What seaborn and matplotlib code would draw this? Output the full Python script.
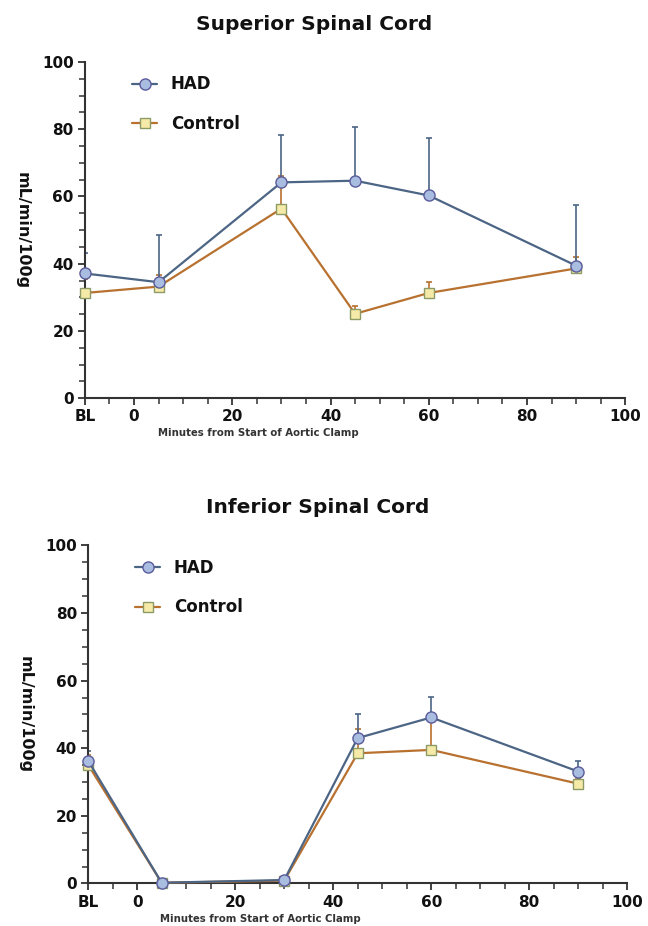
import numpy as np
import pandas as pd
import matplotlib
matplotlib.use("Agg")
import matplotlib.pyplot as plt
import seaborn as sns
from matplotlib.lines import Line2D
from matplotlib.ticker import MultipleLocator

# ---- data ----
minutes = [-10, 5, 30, 45, 60, 90]          # -10 is the baseline "BL" position
x_tick_vals = [-10, 0, 20, 40, 60, 80, 100]
x_tick_labels = ["BL", "0", "20", "40", "60", "80", "100"]

sup_had = [37.1, 34.5, 64.2, 64.7, 60.3, 39.4]
sup_had_err = [6.2, 14.0, 14.1, 16.1, 17.0, 18.0]
sup_ctrl = [31.3, 33.2, 56.4, 25.1, 31.3, 38.6]
sup_ctrl_err = [4.2, 3.4, 9.8, 2.3, 3.2, 3.3]

inf_had = [36.3, 0.2, 1.0, 43.0, 49.1, 33.1]
inf_had_err = [2.8, 0.0, 0.0, 7.1, 6.1, 3.0]
inf_ctrl = [35.1, 0.2, 0.8, 38.5, 39.5, 29.5]
inf_ctrl_err = [3.0, 0.0, 0.0, 7.2, 9.0, 1.5]

titles = ["Superior Spinal Cord", "Inferior Spinal Cord"]
series_names = ["HAD", "Control"]
y_label = "mL/min/100g"
x_label = "Minutes from Start of Aortic Clamp"

# ---- style ----
sns.set_theme(style="white")
plt.rcParams["font.family"] = ["DejaVu Sans"]

had_line = "#4c6585"
had_face = "#a9bde0"
had_edge = "#5b5b9c"
ctrl_line = "#b8712f"
ctrl_face = "#f6eaa8"
ctrl_edge = "#8c9a66"
axis_col = "#333333"

fig = plt.figure(figsize=(6.48, 9.26), dpi=100)
ax_top = fig.add_axes([0.131, 0.570, 0.834, 0.363])
ax_bot = fig.add_axes([0.136, 0.046, 0.832, 0.365])

panels = [
    (ax_top, sup_had, sup_had_err, sup_ctrl, sup_ctrl_err, titles[0]),
    (ax_bot, inf_had, inf_had_err, inf_ctrl, inf_ctrl_err, titles[1]),
]

for ax, had, had_err, ctrl, ctrl_err, title in panels:
    df = pd.DataFrame({
        "minutes": minutes * 2,
        "flow": had + ctrl,
        "group": [series_names[0]] * len(minutes) + [series_names[1]] * len(minutes),
    })
    # upward-only error bars
    ax.errorbar(minutes, ctrl, yerr=[np.zeros(len(ctrl)), ctrl_err], fmt="none",
                ecolor=ctrl_line, elinewidth=1.2, capsize=2.5, capthick=1.2, zorder=2)
    ax.errorbar(minutes, had, yerr=[np.zeros(len(had)), had_err], fmt="none",
                ecolor=had_line, elinewidth=1.2, capsize=2.5, capthick=1.2, zorder=2)

    sns.lineplot(data=df[df.group == "Control"], x="minutes", y="flow", ax=ax,
                 color=ctrl_line, linewidth=1.6, marker="s", markersize=7,
                 markerfacecolor=ctrl_face, markeredgecolor=ctrl_edge,
                 markeredgewidth=1.0, legend=False, zorder=3, clip_on=False)
    sns.lineplot(data=df[df.group == "HAD"], x="minutes", y="flow", ax=ax,
                 color=had_line, linewidth=1.6, marker="o", markersize=8,
                 markerfacecolor=had_face, markeredgecolor=had_edge,
                 markeredgewidth=1.0, legend=False, zorder=4, clip_on=False)
    ax.set_xlim(-10, 100)
    ax.set_ylim(0, 100)
    ax.set_xticks(x_tick_vals)
    ax.set_xticklabels(x_tick_labels)
    ax.xaxis.set_minor_locator(MultipleLocator(5))
    ax.set_yticks([0, 20, 40, 60, 80, 100])
    ax.yaxis.set_minor_locator(MultipleLocator(5))
    for lab in ax.get_xticklabels() + ax.get_yticklabels():
        lab.set_fontweight("bold")
        lab.set_fontsize(11)
        lab.set_color("#111111")
    ax.tick_params(axis="both", which="major", direction="out", length=5, width=1.3,
                   color=axis_col, pad=3, bottom=True, left=True)
    ax.tick_params(axis="both", which="minor", direction="out", length=4, width=1.1,
                   color=axis_col, bottom=True, left=True)
    for s in ["top", "right"]:
        ax.spines[s].set_visible(False)
    for s in ["left", "bottom"]:
        ax.spines[s].set_color(axis_col)
        ax.spines[s].set_linewidth(1.5)
    ax.set_xlabel("")
    ax.set_ylabel(y_label, fontsize=11.5, fontweight="bold", labelpad=20,
                  rotation=-90, color="#111111")
    ax.text(0.32, -0.105, x_label, transform=ax.transAxes, ha="center", va="center",
            fontsize=7.3, fontweight="bold", color="#333333")
    ax.set_title(title, fontsize=14.5, fontweight="bold", pad=23, x=0.425, color="#111111")

    handles = [
        Line2D([], [], color=had_line, linewidth=1.6, marker="o", markersize=8,
               markerfacecolor=had_face, markeredgecolor=had_edge),
        Line2D([], [], color=ctrl_line, linewidth=1.6, marker="s", markersize=7,
               markerfacecolor=ctrl_face, markeredgecolor=ctrl_edge),
    ]
    leg = ax.legend(handles, series_names, loc="upper left", bbox_to_anchor=(0.06, 1.005),
                    frameon=False, handlelength=1.5, labelspacing=1.3,
                    prop={"weight": "bold", "size": 12})
    for t in leg.get_texts():
        t.set_color("#111111")

fig.savefig("out.png", dpi=100)
